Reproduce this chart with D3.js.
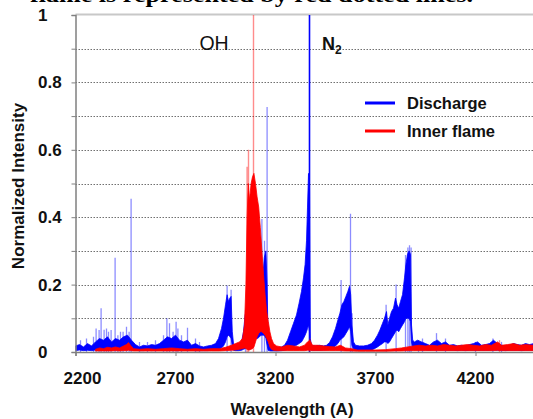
<!DOCTYPE html>
<html><head><meta charset="utf-8">
<script src="https://cdn.jsdelivr.net/npm/d3@7"></script>
<style>
html,body{margin:0;padding:0;background:#fff;}
svg{display:block;font-family:"Liberation Sans",Arial,sans-serif;}
</style></head>
<body>
<svg id="chart" width="533" height="419"></svg>
<script>
// ---------- DATA ----------
const xTicks = [2200, 2700, 3200, 3700, 4200];
const yTicks = [0, 0.1, 0.2, 0.3, 0.4, 0.5, 0.6, 0.7, 0.8, 0.9, 1];
const yLabelTicks = [0, 0.2, 0.4, 0.6, 0.8, 1];
const seriesNames = ["Discharge", "Inner flame"];
const captionText = "flame is represented by red dotted lines.";

// Discharge: dense envelope [wavelength, low, high]
const dischargeBand = [
[2200,0.004,0.018],[2220,0.006,0.022],[2240,0.004,0.015],[2260,0.005,0.025],[2280,0.004,0.018],
[2300,0.006,0.03],[2320,0.008,0.04],[2340,0.006,0.035],[2360,0.008,0.045],[2380,0.007,0.03],
[2400,0.006,0.04],[2420,0.008,0.035],[2440,0.007,0.045],[2460,0.008,0.05],[2480,0.006,0.035],
[2500,0.005,0.022],[2520,0.004,0.015],[2540,0.004,0.02],[2560,0.005,0.018],[2580,0.004,0.022],
[2600,0.005,0.02],[2620,0.005,0.025],[2640,0.006,0.035],[2660,0.006,0.045],[2680,0.007,0.04],
[2700,0.007,0.05],[2720,0.006,0.035],[2740,0.006,0.03],[2760,0.005,0.035],[2780,0.005,0.02],
[2800,0.004,0.025],[2820,0.004,0.018],[2840,0.004,0.015],[2860,0.004,0.018],[2880,0.005,0.02],
[2900,0.006,0.025],[2915,0.008,0.04],[2930,0.012,0.07],[2940,0.018,0.1],[2950,0.03,0.14],
[2958,0.045,0.17],[2965,0.05,0.15],[2972,0.045,0.16],[2978,0.04,0.165],[2984,0.02,0.06],
[2990,0.005,0.025],[3000,0.004,0.02],[3015,0.004,0.018],[3030,0.005,0.03],[3040,0.008,0.06],
[3048,0.01,0.11],[3056,0.015,0.12],[3064,0.02,0.1],[3072,0.03,0.12],[3080,0.035,0.14],
[3090,0.04,0.12],[3100,0.04,0.13],[3110,0.04,0.16],[3120,0.045,0.2],[3128,0.05,0.25],
[3136,0.05,0.22],[3144,0.05,0.28],[3152,0.04,0.3],[3158,0.02,0.2],[3163,0.005,0.03],
[3175,0.003,0.015],[3190,0.003,0.012],[3210,0.003,0.012],[3230,0.004,0.015],[3245,0.005,0.02],
[3260,0.008,0.035],[3275,0.012,0.06],[3290,0.016,0.085],[3305,0.02,0.11],[3318,0.025,0.145],
[3330,0.03,0.18],[3340,0.04,0.22],[3348,0.05,0.26],[3355,0.06,0.33],[3360,0.07,0.43],
[3365,0.08,0.53],[3370,0.06,0.5],[3374,0.01,0.04],[3380,0.005,0.02],[3400,0.005,0.018],
[3420,0.005,0.02],[3440,0.006,0.018],[3455,0.007,0.02],[3470,0.008,0.028],[3485,0.012,0.045],
[3500,0.018,0.07],[3512,0.025,0.095],[3522,0.035,0.115],[3532,0.04,0.14],[3542,0.045,0.15],
[3552,0.055,0.165],[3562,0.065,0.18],[3570,0.075,0.195],[3576,0.06,0.17],[3582,0.02,0.08],
[3590,0.008,0.03],[3600,0.005,0.02],[3620,0.005,0.018],[3640,0.005,0.018],[3660,0.005,0.02],
[3680,0.006,0.025],[3695,0.01,0.035],[3710,0.015,0.05],[3722,0.02,0.065],[3735,0.025,0.085],
[3745,0.03,0.1],[3755,0.03,0.12],[3762,0.025,0.08],[3770,0.03,0.1],[3780,0.04,0.12],
[3790,0.05,0.13],[3800,0.06,0.16],[3808,0.065,0.14],[3816,0.06,0.13],[3825,0.07,0.15],
[3835,0.08,0.17],[3845,0.09,0.22],[3852,0.1,0.26],[3860,0.1,0.29],[3868,0.1,0.3],
[3875,0.09,0.29],[3880,0.03,0.08],[3886,0.01,0.035],[3895,0.007,0.03],[3910,0.008,0.035],
[3930,0.006,0.03],[3950,0.006,0.025],[3970,0.005,0.02],[3990,0.006,0.03],[4010,0.006,0.035],
[4030,0.005,0.025],[4050,0.006,0.03],[4070,0.005,0.02],[4090,0.005,0.022],[4110,0.004,0.018],
[4130,0.005,0.02],[4150,0.004,0.018],[4170,0.005,0.022],[4190,0.005,0.025],[4210,0.005,0.03],
[4230,0.005,0.02],[4250,0.005,0.022],[4270,0.005,0.025],[4290,0.006,0.035],[4310,0.005,0.025],
[4330,0.005,0.02],[4350,0.004,0.018],[4370,0.005,0.02],[4390,0.005,0.025],[4410,0.005,0.022],
[4430,0.004,0.02],[4450,0.005,0.025],[4470,0.005,0.022],[4490,0.005,0.025]
];
// Discharge: narrow emission spikes [wavelength, peak]
const dischargeSpikes = [
[2225,0.035],[2255,0.04],[2290,0.045],[2303,0.07],[2318,0.065],[2328,0.13],[2343,0.066],
[2355,0.07],[2365,0.06],[2378,0.065],[2398,0.28],[2412,0.05],[2425,0.06],[2438,0.06],
[2455,0.075],[2468,0.06],[2478,0.455],[2520,0.03],[2560,0.03],[2600,0.035],[2640,0.05],
[2657,0.1],[2670,0.085],[2688,0.06],[2703,0.09],[2712,0.07],[2730,0.05],[2760,0.072],
[2800,0.04],[2820,0.03],[2958,0.197],[2978,0.185],[3050,0.125],[3132,0.395],[3145,0.33],
[3158,0.727],[3528,0.214],[3575,0.41],[3583,0.115],[3753,0.14],[3803,0.2],[3850,0.288],
[3862,0.31],[3870,0.317],[3878,0.31],[3915,0.035],[3935,0.04],[4005,0.056],[4050,0.04],
[4200,0.03],[4287,0.04],[4330,0.03]
];
// Discharge: N2 band head line
const dischargeHead = [[3370, 1.0]];

// Inner flame: dense envelope [wavelength, low, high]
const flameBand = [
[2300,0.003,0.008],[2320,0.003,0.012],[2340,0.003,0.01],[2360,0.003,0.014],[2380,0.003,0.012],
[2400,0.004,0.015],[2420,0.003,0.012],[2440,0.004,0.018],[2455,0.004,0.022],[2465,0.005,0.028],
[2475,0.004,0.02],[2490,0.003,0.01],[2520,0.003,0.008],[2560,0.003,0.01],[2600,0.003,0.008],
[2640,0.003,0.01],[2680,0.003,0.012],[2720,0.003,0.01],[2760,0.003,0.008],[2800,0.003,0.01],
[2840,0.003,0.008],[2880,0.003,0.01],[2920,0.003,0.01],[2950,0.004,0.014],[2980,0.005,0.02],
[3000,0.006,0.025],[3020,0.008,0.03],[3035,0.01,0.04],[3045,0.012,0.08],[3052,0.01,0.2],
[3058,0.008,0.4],[3064,0.006,0.5],[3070,0.006,0.45],[3078,0.008,0.5],[3085,0.01,0.52],
[3092,0.015,0.53],[3100,0.03,0.5],[3108,0.045,0.46],[3116,0.055,0.43],[3124,0.06,0.37],
[3132,0.06,0.3],[3140,0.055,0.23],[3148,0.05,0.17],[3156,0.04,0.12],[3164,0.03,0.09],
[3172,0.015,0.06],[3180,0.008,0.04],[3190,0.005,0.025],[3205,0.004,0.018],[3230,0.004,0.015],
[3260,0.004,0.02],[3290,0.004,0.018],[3320,0.004,0.015],[3345,0.004,0.02],[3360,0.005,0.03],
[3372,0.005,0.035],[3385,0.004,0.02],[3410,0.004,0.02],[3440,0.004,0.018],[3470,0.004,0.016],
[3500,0.004,0.015],[3525,0.004,0.02],[3550,0.003,0.012],[3580,0.003,0.01],[3610,0.002,0.006],
[3650,0.002,0.006],[3700,0.002,0.006],[3750,0.002,0.007],[3800,0.003,0.01],[3830,0.003,0.012],
[3860,0.004,0.015],[3890,0.004,0.018],[3920,0.004,0.02],[3950,0.004,0.018],[3980,0.004,0.02],
[4010,0.004,0.018],[4040,0.004,0.022],[4070,0.004,0.02],[4100,0.004,0.018],[4130,0.004,0.02],
[4160,0.004,0.022],[4190,0.004,0.02],[4220,0.004,0.018],[4250,0.004,0.022],[4280,0.004,0.02],
[4310,0.005,0.03],[4330,0.004,0.02],[4360,0.004,0.022],[4390,0.004,0.025],[4420,0.004,0.02],
[4450,0.004,0.022],[4490,0.004,0.02]
];
// Inner flame: narrow spikes [wavelength, peak]
const flameSpikes = [[3058,0.55],[3065,0.6],[3090,1.0],[3372,0.04],[4320,0.035]];

// ---------- CHART ----------
const svg = d3.select("#chart");
const W = 533, H = 419;
const x = d3.scaleLinear().domain([2200, 4500]).range([75.5, 535.5]);
const y = d3.scaleLinear().domain([0, 1]).range([352, 15]);
const BLUE = "#0000ff", RED = "#ff0000";

// caption fragment (cut by image top)
svg.append("text").attr("x", 30).attr("y", 2)
  .attr("font-family", "'Liberation Serif','Times New Roman',serif")
  .attr("font-weight", "bold").attr("font-size", 21)
  .attr("textLength", 443).attr("lengthAdjust", "spacingAndGlyphs")
  .text(captionText);

// gridlines
svg.append("g").selectAll("line")
  .data(yTicks.filter(v => v > 0 && v < 1))
  .join("line")
  .attr("x1", x(2200)).attr("x2", W)
  .attr("y1", d => Math.round(y(d)) + 0.5).attr("y2", d => Math.round(y(d)) + 0.5)
  .attr("stroke", "#707070").attr("stroke-width", 1).attr("stroke-dasharray", "1.5,1.5");

// top border
svg.append("line").attr("x1", x(2200)).attr("x2", W).attr("y1", 14.5).attr("y2", 14.5)
  .attr("stroke", "#c8c8c8").attr("stroke-width", 2);

// clip
svg.append("clipPath").attr("id", "clip").append("rect")
  .attr("x", x(2200)).attr("y", y(1) - 1).attr("width", W - x(2200)).attr("height", y(0) - y(1) + 1);
const plot = svg.append("g").attr("clip-path", "url(#clip)");

const band = d3.area().x(d => x(d[0])).y0(d => y(d[1])).y1(d => y(d[2]));

// discharge
plot.append("path").datum(dischargeBand).attr("d", band)
  .attr("fill", BLUE).attr("stroke", BLUE).attr("stroke-width", 0.8).attr("stroke-linejoin", "round");
plot.append("g").selectAll("line").data(dischargeSpikes).join("line")
  .attr("x1", d => x(d[0])).attr("x2", d => x(d[0]))
  .attr("y1", y(0)).attr("y2", d => y(d[1]))
  .attr("stroke", BLUE).attr("stroke-opacity", 0.45).attr("stroke-width", 1.3);
plot.append("g").selectAll("line").data(dischargeHead).join("line")
  .attr("x1", d => x(d[0])).attr("x2", d => x(d[0]))
  .attr("y1", y(0)).attr("y2", d => y(d[1]))
  .attr("stroke", BLUE).attr("stroke-width", 1.6);

// inner flame
plot.append("path").datum(flameBand).attr("d", band)
  .attr("fill", RED).attr("stroke", RED).attr("stroke-width", 0.8).attr("stroke-linejoin", "round");
plot.append("g").selectAll("line").data(flameSpikes).join("line")
  .attr("x1", d => x(d[0])).attr("x2", d => x(d[0]))
  .attr("y1", y(0)).attr("y2", d => y(d[1]))
  .attr("stroke", RED).attr("stroke-opacity", 0.45).attr("stroke-width", 1.4);

// y axis
const yAxis = svg.append("g").attr("transform", `translate(${x(2200)},0)`)
  .call(d3.axisLeft(y).tickValues(yTicks).tickSize(4).tickFormat(""));
yAxis.select(".domain").attr("stroke", "#808080").attr("stroke-width", 1.5);
yAxis.selectAll(".tick line").attr("stroke", "#808080");
svg.append("g").selectAll("text").data(yLabelTicks).join("text")
  .attr("x", 38).attr("y", d => y(d)).attr("dy", "0.35em")
  .attr("font-size", 17).attr("font-weight", "bold").attr("fill", "#111")
  .text(d => d3.format("~g")(d));

// x axis
const xAxis = svg.append("g").attr("transform", `translate(0,${y(0)})`)
  .call(d3.axisBottom(x).tickValues(xTicks).tickSize(4).tickFormat(""));
xAxis.select(".domain").attr("stroke", "#808080").attr("stroke-width", 1.5);
xAxis.selectAll(".tick line").attr("stroke", "#808080");
svg.append("g").selectAll("text").data(xTicks).join("text")
  .attr("x", (d, i) => x(d) + (i === 0 ? 7 : 0)).attr("y", 384)
  .attr("text-anchor", "middle")
  .attr("font-size", 17).attr("font-weight", "bold").attr("fill", "#111")
  .text(d => d);

// axis titles
svg.append("text").attr("x", 292).attr("y", 415).attr("text-anchor", "middle")
  .attr("font-size", 17).attr("font-weight", "bold").attr("fill", "#111").text("Wavelength (A)");
svg.append("text").attr("transform", "translate(24,186) rotate(-90)").attr("text-anchor", "middle")
  .attr("font-size", 17).attr("font-weight", "bold").attr("fill", "#111").text("Normalized Intensity");

// band labels
svg.append("text").attr("x", 214).attr("y", 50).attr("text-anchor", "middle")
  .attr("font-size", 19.5).attr("fill", "#111").text("OH");
const n2 = svg.append("text").attr("x", 322).attr("y", 50)
  .attr("font-size", 18).attr("font-weight", "bold").attr("fill", "#111");
n2.append("tspan").text("N");
n2.append("tspan").attr("font-size", 12).attr("dy", 4).text("2");

// legend
const legend = svg.append("g").selectAll("g").data(seriesNames).join("g")
  .attr("transform", (d, i) => `translate(365,${103 + i * 28})`);
legend.append("line").attr("x1", 0).attr("x2", 30)
  .attr("stroke", (d, i) => i === 0 ? BLUE : RED).attr("stroke-width", 3);
legend.append("text").attr("x", 42).attr("dy", "0.35em")
  .attr("font-size", 16.5).attr("font-weight", "bold").attr("fill", "#111").text(d => d);
</script>
</body></html>
